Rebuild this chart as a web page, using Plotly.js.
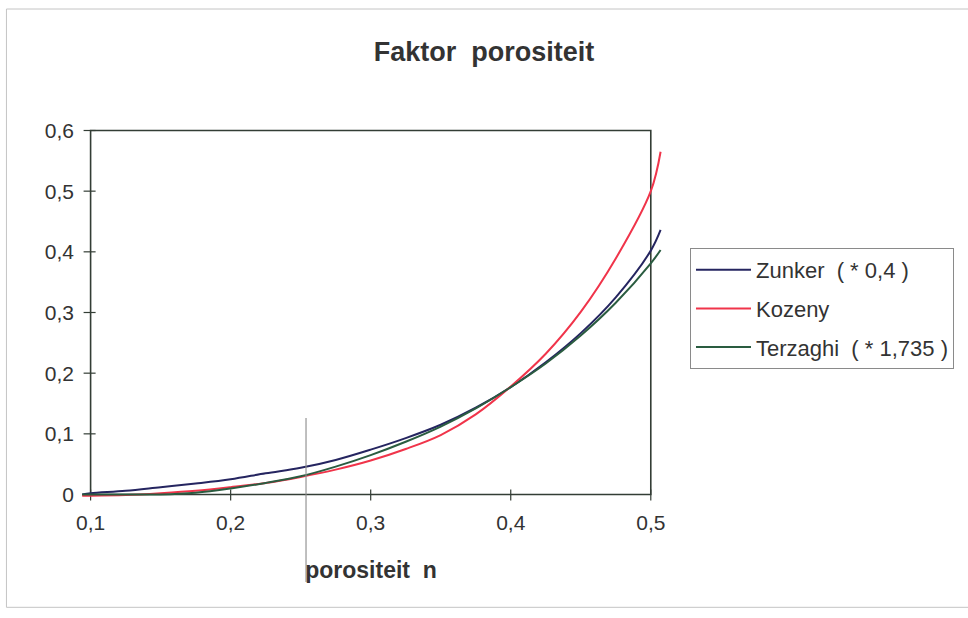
<!DOCTYPE html>
<html>
<head>
<meta charset="utf-8">
<script src="https://cdn.plot.ly/plotly-3.0.1.min.js"></script>
<style>
  html, body { margin: 0; padding: 0; background: #ffffff; }
  #chart { width: 968px; height: 618px; }
</style>
</head>
<body>
<div id="chart"></div>
<script>
// Porosity n and the three permeability factors
const porositeit = [0.094, 0.1, 0.125, 0.15, 0.175, 0.2, 0.225, 0.25, 0.275, 0.3, 0.325, 0.35, 0.375, 0.4, 0.425, 0.45, 0.475, 0.5, 0.507];
const zunker     = [0.0, 0.002, 0.006, 0.012, 0.018, 0.025, 0.035, 0.044, 0.057, 0.074, 0.093, 0.115, 0.143, 0.177, 0.218, 0.266, 0.325, 0.402, 0.436];
const kozeny     = [-0.002, -0.002, -0.001, 0.002, 0.006, 0.012, 0.019, 0.029, 0.041, 0.056, 0.075, 0.098, 0.132, 0.178, 0.232, 0.301, 0.389, 0.500, 0.565];
const terzaghi   = [0.0, 0.0, 0.0, 0.0, 0.003, 0.010, 0.019, 0.030, 0.046, 0.065, 0.087, 0.112, 0.142, 0.177, 0.216, 0.262, 0.316, 0.381, 0.403];

const seriesNames = ['Zunker\u00a0\u00a0( * 0,4 )', 'Kozeny', 'Terzaghi\u00a0\u00a0( * 1,735 )'];
const seriesColors = ['#252560', '#f0344a', '#2a5c40'];

const xTickVals = [0.1, 0.2, 0.3, 0.4, 0.5];
const xTickText = ['0,1', '0,2', '0,3', '0,4', '0,5'];
const yTickVals = [0, 0.1, 0.2, 0.3, 0.4, 0.5, 0.6];
const yTickText = ['0', '0,1', '0,2', '0,3', '0,4', '0,5', '0,6'];

const FONT = 'Liberation Sans, Arial, sans-serif';
const TEXT = '#333333';
const FRAME = '#333d35';

const seriesValues = [zunker, kozeny, terzaghi];
const traces = seriesValues.map((vals, i) => ({
  type: 'scatter',
  mode: 'lines',
  x: porositeit,
  y: vals,
  name: seriesNames[i],
  legendgroup: 'g' + i,
  line: { color: seriesColors[i], width: 2, shape: 'spline' },
  hoverinfo: 'skip'
}));

// plot frame (axis box) in data coordinates
const shapes = [{
  type: 'rect', xref: 'x', yref: 'y', layer: 'below',
  x0: xTickVals[0], x1: xTickVals[xTickVals.length - 1],
  y0: yTickVals[0], y1: yTickVals[yTickVals.length - 1],
  line: { color: FRAME, width: 1.6 }
}];

// cross tick marks on the bottom and left sides of the frame
xTickVals.forEach(v => shapes.push({
  type: 'line', xref: 'x', yref: 'y', layer: 'below',
  x0: v, x1: v, ysizemode: 'pixel', yanchor: yTickVals[0], y0: -6, y1: 5,
  line: { color: FRAME, width: 1.2 }
}));
yTickVals.forEach(v => shapes.push({
  type: 'line', xref: 'x', yref: 'y', layer: 'below',
  y0: v, y1: v, xsizemode: 'pixel', xanchor: xTickVals[0], x0: -7, x1: 5,
  line: { color: FRAME, width: 1.2 }
}));

// light outer border of the chart sheet
shapes.push({
  type: 'rect', xref: 'paper', yref: 'paper',
  x0: -0.12, x1: 1.53, y0: -0.282, y1: 1.305,
  line: { color: '#c4c4c4', width: 1 }
});
// fold mark on the sheet
shapes.push({
  type: 'line', xref: 'paper', yref: 'paper',
  x0: 0.3895, x1: 0.3895, y0: -0.215, y1: 0.22,
  line: { color: 'rgba(140,140,140,0.75)', width: 1.5 }
});

const layout = {
  width: 968,
  height: 618,
  margin: { l: 77, r: 303, t: 124, b: 117 },
  paper_bgcolor: '#ffffff',
  plot_bgcolor: '#ffffff',
  font: { family: FONT, color: TEXT, size: 21 },
  title: {
    text: 'Faktor\u00a0\u00a0porositeit',
    font: { family: FONT, size: 27, color: TEXT, weight: 'bold' },
    x: 0.5, xref: 'container', xanchor: 'center',
    y: 0.916, yref: 'container', yanchor: 'middle'
  },
  xaxis: {
    range: [0.09029, 0.51015],
    tickmode: 'array', tickvals: xTickVals, ticktext: xTickText,
    ticks: '', ticklabelstandoff: 7,
    showgrid: false, zeroline: false, showline: false,
    tickfont: { family: FONT, size: 21, color: TEXT },
    title: {
      text: 'porositeit\u00a0\u00a0n',
      font: { family: FONT, size: 23, color: TEXT, weight: 'bold' },
      standoff: 28
    }
  },
  yaxis: {
    range: [-0.01071, 0.61071],
    tickmode: 'array', tickvals: yTickVals, ticktext: yTickText,
    ticks: '', ticklabelstandoff: 2,
    showgrid: false, zeroline: false, showline: false,
    tickfont: { family: FONT, size: 21, color: TEXT }
  },
  showlegend: true,
  legend: {
    x: 1.0425, xanchor: 'left',
    y: 0.6711, yanchor: 'top',
    bgcolor: '#ffffff',
    bordercolor: '#8a8a8a', borderwidth: 1,
    font: { family: FONT, size: 22, color: TEXT },
    traceorder: 'grouped',
    tracegroupgap: 7,
    itemwidth: 55,
    itemclick: false, itemdoubleclick: false
  },
  shapes: shapes
};

Plotly.newPlot('chart', traces, layout, { displayModeBar: false, staticPlot: true });
</script>
</body>
</html>
